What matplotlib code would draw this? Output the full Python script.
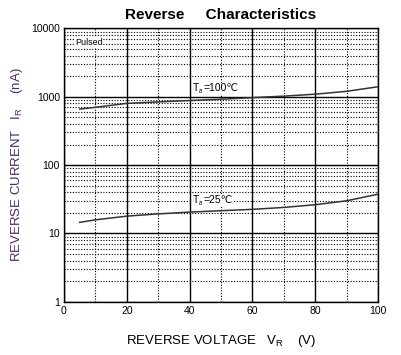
import matplotlib.pyplot as plt
from matplotlib.ticker import LogLocator, MultipleLocator, NullFormatter

# reverse voltage (V)
vr = [5, 10, 20, 30, 40, 50, 60, 70, 80, 90, 100]
# reverse current (nA)
ir_100 = [660, 700, 800, 840, 880, 920, 970, 1020, 1090, 1200, 1400]
ir_25 = [14.5, 15.8, 17.9, 19.3, 20.5, 21.5, 22.5, 24, 26.3, 30, 37.5]

xticks = [0, 20, 40, 60, 80, 100]
yticks = [1, 10, 100, 1000, 10000]

plt.rcParams['font.family'] = ['Liberation Sans', 'DejaVu Sans']
plt.rcParams['mathtext.fontset'] = 'custom'
plt.rcParams['mathtext.rm'] = 'Liberation Sans'

fig = plt.figure(figsize=(4.01, 3.55), dpi=100)
ax = fig.add_axes([0.1596, 0.150, 0.783, 0.770])

ax.plot(vr, ir_100, color='#333333', lw=1.1)
ax.plot(vr, ir_25, color='#333333', lw=1.1)

ax.set_yscale('log')
ax.set_xlim(0, 100)
ax.set_ylim(1, 10000)
ax.set_xticks(xticks)
ax.set_xticklabels([str(t) for t in xticks])
ax.set_yticks(yticks)
ax.set_yticklabels([str(t) for t in yticks])
ax.xaxis.set_minor_locator(MultipleLocator(10))
ax.yaxis.set_minor_locator(LogLocator(base=10, subs=range(2, 10)))
ax.yaxis.set_minor_formatter(NullFormatter())

ax.grid(True, which='major', color='black', lw=1.0, ls='-')
ax.grid(True, which='minor', color='black', lw=0.8, ls=(0, (1, 1.5)))
ax.tick_params(which='both', length=0, labelsize=7.5, pad=3)
for s in ax.spines.values():
    s.set_linewidth(1.0)

ax.set_title('Reverse     Characteristics', fontsize=11, fontweight='bold', pad=7)
ax.set_xlabel('REVERSE VOLTAGE   V$_\\mathregular{R}$    (V)', fontsize=9.5, labelpad=12)
ax.set_ylabel('REVERSE CURRENT   I$_\\mathregular{R}$    (nA)', fontsize=9.5,
              color='#4a2a6a', labelpad=4)

white = dict(facecolor='white', edgecolor='none', pad=0.5)
ax.text(3.5, 6300, 'Pulsed', fontsize=6.5, va='center', ha='left', bbox=white)


def temp_label(x, y, value):
    ax.text(x, y, 'T', fontsize=7.5, va='center', ha='left', bbox=white)
    ax.annotate('a', (x, y), xytext=(4.3, -2.5), textcoords='offset points',
                fontsize=5, va='center', ha='left', bbox=white)
    ax.annotate('=' + value + '℃', (x, y), xytext=(7.5, 0), textcoords='offset points',
                fontsize=7.5, va='center', ha='left', bbox=white)


temp_label(41, 1330, '100')
temp_label(41, 31, '25')

fig.savefig('out.png', dpi=100)
